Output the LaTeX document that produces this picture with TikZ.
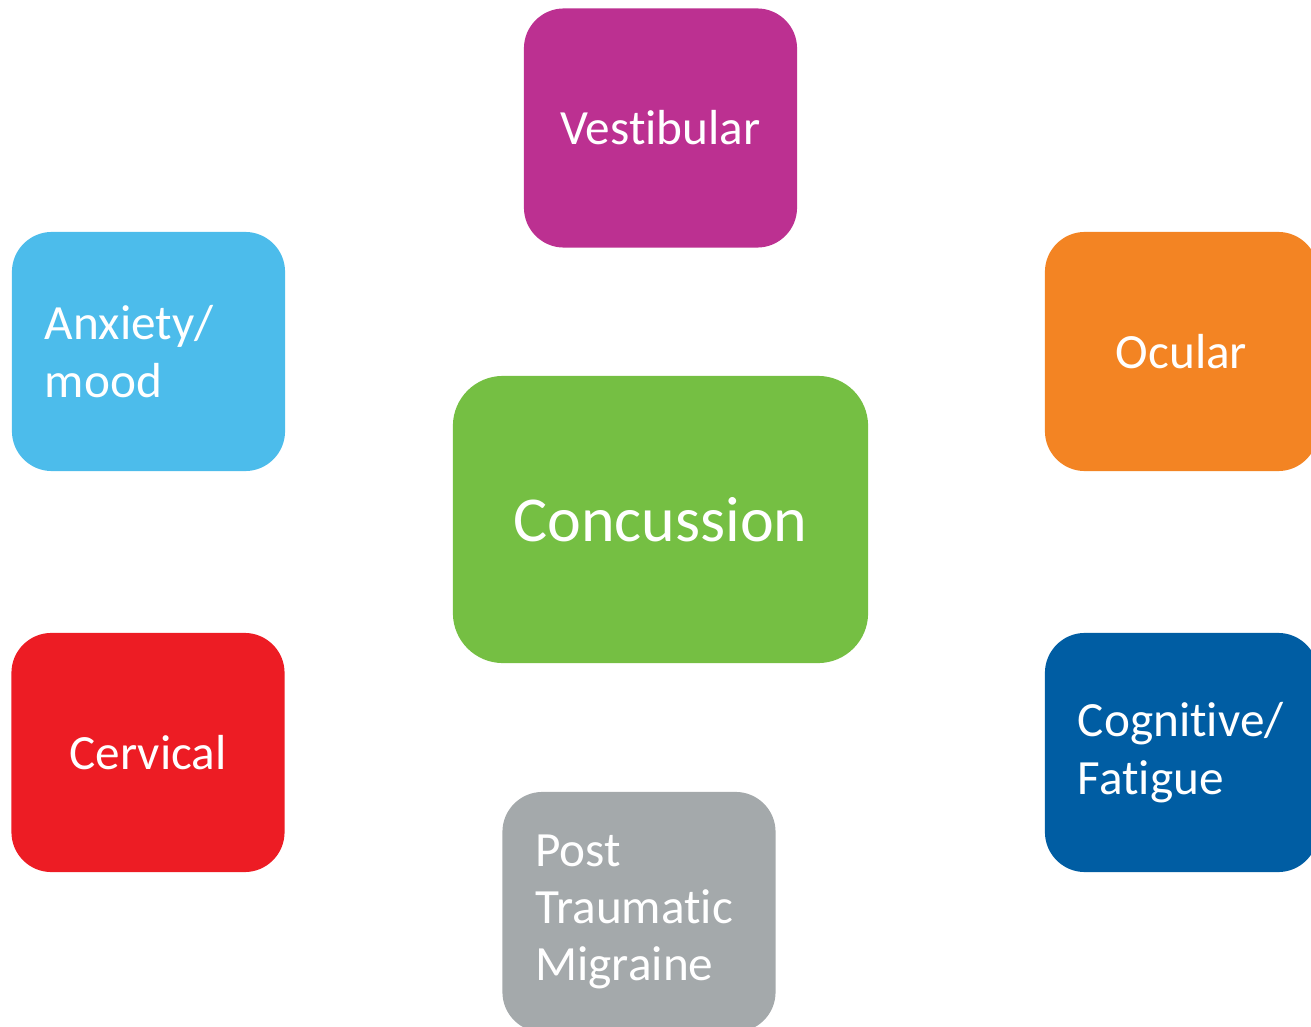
\documentclass[tikz,border=0pt]{standalone}
\usepackage{fontspec}
\setmainfont{Carlito}[Ligatures=NoCommon]
\usepackage{xcolor}

\definecolor{vestcol}{HTML}{BC3091}
\definecolor{anxcol}{HTML}{4CBCEB}
\definecolor{ocucol}{HTML}{F38423}
\definecolor{conccol}{HTML}{75BF43}
\definecolor{cervcol}{HTML}{ED1C24}
\definecolor{cogncol}{HTML}{005DA3}
\definecolor{ptmcol}{HTML}{A4A9AB}

\begin{document}
\begin{tikzpicture}[x=0.01cm, y=-0.01cm,
    box/.style = {shape=rectangle, rounded corners=0.4cm,
      minimum width=2.73cm, minimum height=2.39cm,
      text=white, align=center,
      font=\fontsize{14pt}{16.3pt}\selectfont},
    leftbox/.style = {box, align=left, text width=2.07cm, inner xsep=0.33cm}]
  \clip (0,0) rectangle (1311,1027);
  \useasboundingbox (0,0) rectangle (1311,1027);
  \node[box, fill=vestcol] (vest) at (660.5,128) {Vestibular};
  \node[leftbox, fill=anxcol] (anx) at (148.5,351.5) {Anxiety/\\mood};
  \node[box, fill=ocucol] (ocu) at (1181.5,351.5) {Ocular};
  \node[box, fill=conccol, rounded corners=0.5cm,
    minimum width=4.15cm, minimum height=2.87cm,
    font=\fontsize{18.2pt}{20pt}\selectfont] (conc) at (660.5,519.5) {Concussion};
  \node[box, fill=cervcol] (cerv) at (148,752.5) {Cervical};
  \node[leftbox, fill=cogncol] (cogn) at (1181.5,752.5) {Cognitive/\\Fatigue};
  \node[leftbox, fill=ptmcol, minimum height=2.40cm] (ptm) at (639,912) {Post\\Traumatic\\Migraine};
\end{tikzpicture}
\end{document}
